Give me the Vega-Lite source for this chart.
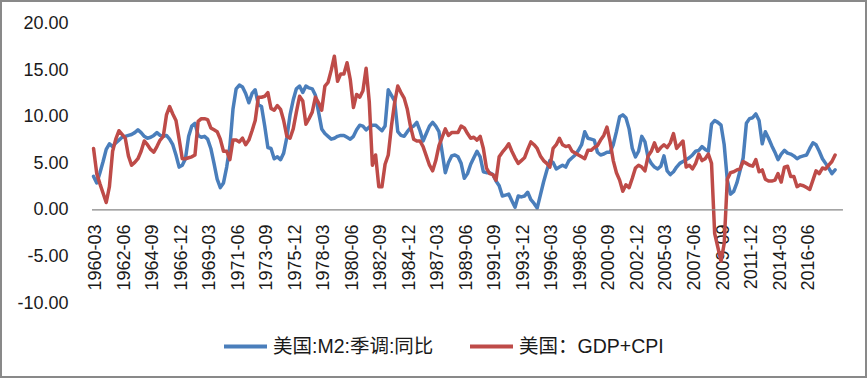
{
  "$schema": "https://vega.github.io/schema/vega-lite/v6.json",
  "width": 867,
  "height": 378,
  "autosize": {"type": "none"},
  "padding": 0,
  "background": "white",
  "config": {
    "font": "Liberation Sans, Noto Sans CJK SC",
    "view": {"stroke": "#898989", "strokeWidth": 4}
  },
  "data": {"values": [
    {"q":"1960-03","m2":3.6,"gdp":6.6},{"q":"1960-06","m2":2.9,"gdp":3.9},{"q":"1960-09","m2":4.0,"gdp":2.8},{"q":"1960-12","m2":5.2,"gdp":1.8},
    {"q":"1961-03","m2":6.5,"gdp":0.8},{"q":"1961-06","m2":7.1,"gdp":2.5},{"q":"1961-09","m2":6.8,"gdp":6.3},{"q":"1961-12","m2":7.2,"gdp":7.6},
    {"q":"1962-03","m2":7.5,"gdp":8.5},{"q":"1962-06","m2":7.8,"gdp":8.1},{"q":"1962-09","m2":7.9,"gdp":7.7},{"q":"1962-12","m2":8.0,"gdp":5.8},
    {"q":"1963-03","m2":8.1,"gdp":4.8},{"q":"1963-06","m2":8.3,"gdp":5.1},{"q":"1963-09","m2":8.6,"gdp":5.5},{"q":"1963-12","m2":8.3,"gdp":6.3},
    {"q":"1964-03","m2":7.9,"gdp":7.4},{"q":"1964-06","m2":7.7,"gdp":7.0},{"q":"1964-09","m2":7.8,"gdp":6.5},{"q":"1964-12","m2":8.0,"gdp":6.2},
    {"q":"1965-03","m2":8.3,"gdp":6.8},{"q":"1965-06","m2":8.0,"gdp":7.5},{"q":"1965-09","m2":7.9,"gdp":7.9},{"q":"1965-12","m2":8.0,"gdp":10.2},
    {"q":"1966-03","m2":7.6,"gdp":11.1},{"q":"1966-06","m2":7.0,"gdp":10.3},{"q":"1966-09","m2":5.9,"gdp":9.6},{"q":"1966-12","m2":4.6,"gdp":7.6},
    {"q":"1967-03","m2":4.8,"gdp":5.5},{"q":"1967-06","m2":5.5,"gdp":5.5},{"q":"1967-09","m2":7.9,"gdp":5.6},{"q":"1967-12","m2":9.0,"gdp":5.7},
    {"q":"1968-03","m2":9.3,"gdp":5.9},{"q":"1968-06","m2":8.0,"gdp":9.5},{"q":"1968-09","m2":7.8,"gdp":9.8},{"q":"1968-12","m2":7.9,"gdp":9.8},
    {"q":"1969-03","m2":7.6,"gdp":9.7},{"q":"1969-06","m2":6.6,"gdp":8.8},{"q":"1969-09","m2":5.0,"gdp":8.6},{"q":"1969-12","m2":3.3,"gdp":8.4},
    {"q":"1970-03","m2":2.4,"gdp":7.6},{"q":"1970-06","m2":2.9,"gdp":6.3},{"q":"1970-09","m2":4.6,"gdp":6.3},{"q":"1970-12","m2":6.8,"gdp":5.4},
    {"q":"1971-03","m2":10.8,"gdp":7.5},{"q":"1971-06","m2":13.0,"gdp":7.5},{"q":"1971-09","m2":13.4,"gdp":7.3},{"q":"1971-12","m2":13.2,"gdp":7.7},
    {"q":"1972-03","m2":12.5,"gdp":7.0},{"q":"1972-06","m2":11.5,"gdp":7.5},{"q":"1972-09","m2":12.5,"gdp":8.5},{"q":"1972-12","m2":12.9,"gdp":9.6},
    {"q":"1973-03","m2":11.3,"gdp":12.1},{"q":"1973-06","m2":11.1,"gdp":12.1},{"q":"1973-09","m2":9.0,"gdp":12.2},{"q":"1973-12","m2":6.7,"gdp":12.6},
    {"q":"1974-03","m2":6.6,"gdp":10.9},{"q":"1974-06","m2":5.5,"gdp":10.7},{"q":"1974-09","m2":5.7,"gdp":11.2},{"q":"1974-12","m2":5.4,"gdp":10.8},
    {"q":"1975-03","m2":6.1,"gdp":9.6},{"q":"1975-06","m2":7.8,"gdp":7.9},{"q":"1975-09","m2":10.2,"gdp":7.7},{"q":"1975-12","m2":11.8,"gdp":8.7},
    {"q":"1976-03","m2":13.0,"gdp":10.5},{"q":"1976-06","m2":13.3,"gdp":12.2},{"q":"1976-09","m2":12.6,"gdp":11.7},{"q":"1976-12","m2":13.3,"gdp":9.2},
    {"q":"1977-03","m2":13.1,"gdp":9.8},{"q":"1977-06","m2":13.0,"gdp":10.5},{"q":"1977-09","m2":12.3,"gdp":12.1},{"q":"1977-12","m2":10.5,"gdp":11.5},
    {"q":"1978-03","m2":8.7,"gdp":10.7},{"q":"1978-06","m2":8.2,"gdp":13.3},{"q":"1978-09","m2":7.9,"gdp":13.7},{"q":"1978-12","m2":7.6,"gdp":15.0},
    {"q":"1979-03","m2":7.7,"gdp":16.5},{"q":"1979-06","m2":7.9,"gdp":13.8},{"q":"1979-09","m2":8.0,"gdp":14.6},{"q":"1979-12","m2":8.0,"gdp":14.6},
    {"q":"1980-03","m2":7.8,"gdp":15.8},{"q":"1980-06","m2":7.6,"gdp":14.0},{"q":"1980-09","m2":7.9,"gdp":11.0},{"q":"1980-12","m2":8.6,"gdp":12.4},
    {"q":"1981-03","m2":9.1,"gdp":12.1},{"q":"1981-06","m2":9.0,"gdp":12.8},{"q":"1981-09","m2":8.6,"gdp":15.2},{"q":"1981-12","m2":8.9,"gdp":11.6},
    {"q":"1982-03","m2":9.1,"gdp":4.8},{"q":"1982-06","m2":9.1,"gdp":5.9},{"q":"1982-09","m2":8.8,"gdp":2.5},{"q":"1982-12","m2":8.5,"gdp":2.5},
    {"q":"1983-03","m2":9.0,"gdp":4.9},{"q":"1983-06","m2":12.9,"gdp":5.9},{"q":"1983-09","m2":12.3,"gdp":9.0},{"q":"1983-12","m2":11.7,"gdp":11.5},
    {"q":"1984-03","m2":8.4,"gdp":13.3},{"q":"1984-06","m2":8.0,"gdp":12.6},{"q":"1984-09","m2":7.9,"gdp":12.0},{"q":"1984-12","m2":8.4,"gdp":10.8},
    {"q":"1985-03","m2":8.8,"gdp":9.0},{"q":"1985-06","m2":9.0,"gdp":7.6},{"q":"1985-09","m2":9.4,"gdp":7.4},{"q":"1985-12","m2":8.5,"gdp":7.4},
    {"q":"1986-03","m2":7.4,"gdp":6.8},{"q":"1986-06","m2":8.2,"gdp":5.8},{"q":"1986-09","m2":9.0,"gdp":4.8},{"q":"1986-12","m2":9.4,"gdp":4.2},
    {"q":"1987-03","m2":9.0,"gdp":5.3},{"q":"1987-06","m2":8.4,"gdp":6.9},{"q":"1987-09","m2":6.2,"gdp":7.8},{"q":"1987-12","m2":4.0,"gdp":8.7},
    {"q":"1988-03","m2":5.1,"gdp":8.0},{"q":"1988-06","m2":5.8,"gdp":8.3},{"q":"1988-09","m2":5.9,"gdp":8.3},{"q":"1988-12","m2":5.7,"gdp":8.3},
    {"q":"1989-03","m2":5.0,"gdp":9.0},{"q":"1989-06","m2":3.4,"gdp":8.8},{"q":"1989-09","m2":3.9,"gdp":8.2},{"q":"1989-12","m2":4.9,"gdp":7.7},
    {"q":"1990-03","m2":5.6,"gdp":7.8},{"q":"1990-06","m2":6.3,"gdp":7.5},{"q":"1990-09","m2":5.7,"gdp":7.9},{"q":"1990-12","m2":4.1,"gdp":6.6},
    {"q":"1991-03","m2":4.0,"gdp":4.5},{"q":"1991-06","m2":4.0,"gdp":3.9},{"q":"1991-09","m2":3.8,"gdp":3.8},{"q":"1991-12","m2":3.1,"gdp":3.2},
    {"q":"1992-03","m2":2.6,"gdp":5.7},{"q":"1992-06","m2":1.5,"gdp":6.2},{"q":"1992-09","m2":1.6,"gdp":6.6},{"q":"1992-12","m2":1.7,"gdp":7.1},
    {"q":"1993-03","m2":1.0,"gdp":6.3},{"q":"1993-06","m2":0.3,"gdp":5.6},{"q":"1993-09","m2":1.5,"gdp":5.0},{"q":"1993-12","m2":1.4,"gdp":5.3},
    {"q":"1994-03","m2":1.5,"gdp":5.6},{"q":"1994-06","m2":1.9,"gdp":6.5},{"q":"1994-09","m2":1.1,"gdp":7.3},{"q":"1994-12","m2":0.7,"gdp":7.0},
    {"q":"1995-03","m2":0.2,"gdp":6.6},{"q":"1995-06","m2":1.6,"gdp":5.8},{"q":"1995-09","m2":3.0,"gdp":5.3},{"q":"1995-12","m2":4.2,"gdp":5.0},
    {"q":"1996-03","m2":5.3,"gdp":4.6},{"q":"1996-06","m2":5.1,"gdp":6.6},{"q":"1996-09","m2":4.4,"gdp":7.0},{"q":"1996-12","m2":4.6,"gdp":7.7},
    {"q":"1997-03","m2":4.8,"gdp":7.0},{"q":"1997-06","m2":4.6,"gdp":6.8},{"q":"1997-09","m2":5.3,"gdp":6.9},{"q":"1997-12","m2":5.6,"gdp":6.3},
    {"q":"1998-03","m2":5.9,"gdp":6.1},{"q":"1998-06","m2":6.4,"gdp":5.9},{"q":"1998-09","m2":7.0,"gdp":5.7},{"q":"1998-12","m2":8.4,"gdp":5.5},
    {"q":"1999-03","m2":7.7,"gdp":6.4},{"q":"1999-06","m2":7.6,"gdp":6.4},{"q":"1999-09","m2":7.5,"gdp":6.7},{"q":"1999-12","m2":6.2,"gdp":6.9},
    {"q":"2000-03","m2":5.9,"gdp":7.5},{"q":"2000-06","m2":6.0,"gdp":8.0},{"q":"2000-09","m2":6.2,"gdp":8.9},{"q":"2000-12","m2":6.2,"gdp":7.3},
    {"q":"2001-03","m2":7.0,"gdp":5.3},{"q":"2001-06","m2":8.4,"gdp":4.0},{"q":"2001-09","m2":10.0,"gdp":3.2},{"q":"2001-12","m2":10.2,"gdp":2.0},
    {"q":"2002-03","m2":9.9,"gdp":2.7},{"q":"2002-06","m2":8.7,"gdp":2.4},{"q":"2002-09","m2":6.6,"gdp":3.4},{"q":"2002-12","m2":5.7,"gdp":4.5},
    {"q":"2003-03","m2":6.3,"gdp":4.8},{"q":"2003-06","m2":7.9,"gdp":4.6},{"q":"2003-09","m2":7.3,"gdp":4.2},{"q":"2003-12","m2":5.6,"gdp":5.8},
    {"q":"2004-03","m2":5.0,"gdp":6.3},{"q":"2004-06","m2":4.6,"gdp":7.2},{"q":"2004-09","m2":4.4,"gdp":6.3},{"q":"2004-12","m2":4.7,"gdp":6.7},
    {"q":"2005-03","m2":5.8,"gdp":7.0},{"q":"2005-06","m2":4.2,"gdp":6.7},{"q":"2005-09","m2":3.8,"gdp":7.2},{"q":"2005-12","m2":4.1,"gdp":8.2},
    {"q":"2006-03","m2":4.6,"gdp":6.6},{"q":"2006-06","m2":5.0,"gdp":7.0},{"q":"2006-09","m2":5.2,"gdp":7.4},{"q":"2006-12","m2":5.4,"gdp":4.6},
    {"q":"2007-03","m2":5.6,"gdp":4.8},{"q":"2007-06","m2":5.9,"gdp":4.4},{"q":"2007-09","m2":6.3,"gdp":5.0},{"q":"2007-12","m2":6.4,"gdp":6.0},
    {"q":"2008-03","m2":6.8,"gdp":5.3},{"q":"2008-06","m2":6.5,"gdp":5.5},{"q":"2008-09","m2":6.3,"gdp":6.0},{"q":"2008-12","m2":9.2,"gdp":5.0},
    {"q":"2009-03","m2":9.6,"gdp":-2.5},{"q":"2009-06","m2":9.4,"gdp":-4.0},{"q":"2009-09","m2":9.1,"gdp":-5.5},{"q":"2009-12","m2":7.0,"gdp":-3.6},
    {"q":"2010-03","m2":3.2,"gdp":3.3},{"q":"2010-06","m2":1.7,"gdp":4.0},{"q":"2010-09","m2":2.0,"gdp":4.1},{"q":"2010-12","m2":2.9,"gdp":4.3},
    {"q":"2011-03","m2":4.2,"gdp":4.4},{"q":"2011-06","m2":5.6,"gdp":5.2},{"q":"2011-09","m2":9.3,"gdp":5.0},{"q":"2011-12","m2":9.8,"gdp":4.8},
    {"q":"2012-03","m2":9.9,"gdp":4.7},{"q":"2012-06","m2":10.3,"gdp":5.4},{"q":"2012-09","m2":9.6,"gdp":4.1},{"q":"2012-12","m2":7.1,"gdp":4.3},
    {"q":"2013-03","m2":8.4,"gdp":3.3},{"q":"2013-06","m2":7.7,"gdp":3.1},{"q":"2013-09","m2":6.9,"gdp":3.1},{"q":"2013-12","m2":6.2,"gdp":3.2},
    {"q":"2014-03","m2":5.4,"gdp":3.9},{"q":"2014-06","m2":6.0,"gdp":3.0},{"q":"2014-09","m2":6.4,"gdp":4.6},{"q":"2014-12","m2":6.1,"gdp":4.7},
    {"q":"2015-03","m2":6.0,"gdp":3.6},{"q":"2015-06","m2":5.8,"gdp":3.6},{"q":"2015-09","m2":5.5,"gdp":2.5},{"q":"2015-12","m2":5.7,"gdp":2.7},
    {"q":"2016-03","m2":5.8,"gdp":2.6},{"q":"2016-06","m2":5.9,"gdp":2.4},{"q":"2016-09","m2":6.6,"gdp":2.2},{"q":"2016-12","m2":7.2,"gdp":3.2},
    {"q":"2017-03","m2":7.0,"gdp":4.2},{"q":"2017-06","m2":6.3,"gdp":3.9},{"q":"2017-09","m2":5.5,"gdp":4.5},{"q":"2017-12","m2":5.0,"gdp":4.4},
    {"q":"2018-03","m2":4.5,"gdp":4.8},{"q":"2018-06","m2":3.9,"gdp":5.2},{"q":"2018-09","m2":4.3,"gdp":5.9}
  ]},
  "layer": [
    {
      "mark": {"type": "line", "color": "#4A7EBB", "strokeWidth": 3.5, "strokeJoin": "round", "strokeCap": "round"},
      "encoding": {
        "x": {
          "field": "q", "type": "temporal",
          "scale": {"type": "utc", "domain": [{"year": 1952, "month": 10, "date": 13, "utc": true}, {"year": 2021, "month": 3, "date": 8, "utc": true}]},
          "axis": {
            "orient": "bottom", "offset": -168, "title": null, "tickCount": 60,
            "values": [
              {"year":1960,"month":3,"date":1,"utc":true},{"year":1962,"month":6,"date":1,"utc":true},{"year":1964,"month":9,"date":1,"utc":true},
              {"year":1966,"month":12,"date":1,"utc":true},{"year":1969,"month":3,"date":1,"utc":true},{"year":1971,"month":6,"date":1,"utc":true},
              {"year":1973,"month":9,"date":1,"utc":true},{"year":1975,"month":12,"date":1,"utc":true},{"year":1978,"month":3,"date":1,"utc":true},
              {"year":1980,"month":6,"date":1,"utc":true},{"year":1982,"month":9,"date":1,"utc":true},{"year":1984,"month":12,"date":1,"utc":true},
              {"year":1987,"month":3,"date":1,"utc":true},{"year":1989,"month":6,"date":1,"utc":true},{"year":1991,"month":9,"date":1,"utc":true},
              {"year":1993,"month":12,"date":1,"utc":true},{"year":1996,"month":3,"date":1,"utc":true},{"year":1998,"month":6,"date":1,"utc":true},
              {"year":2000,"month":9,"date":1,"utc":true},{"year":2002,"month":12,"date":1,"utc":true},{"year":2005,"month":3,"date":1,"utc":true},
              {"year":2007,"month":6,"date":1,"utc":true},{"year":2009,"month":9,"date":1,"utc":true},{"year":2011,"month":12,"date":1,"utc":true},
              {"year":2014,"month":3,"date":1,"utc":true},{"year":2016,"month":6,"date":1,"utc":true}
            ],
            "format": "%Y-%m",
            "labelAngle": 270, "labelAlign": "right", "labelBaseline": "middle",
            "labelPadding": 14, "labelOffset": 2, "labelFontSize": 18, "labelColor": "#1a1a1a",
            "domain": false, "ticks": false, "tickSize": 0, "grid": false,
            "labelOverlap": false, "labelFlush": false, "labelBound": false
          }
        },
        "y": {
          "field": "m2", "type": "quantitative",
          "scale": {"domain": [-18.03, 22.53], "nice": false, "zero": false},
          "axis": {
            "orient": "left", "offset": -92, "title": null,
            "values": [-10, -5, 0, 5, 10, 15, 20],
            "labelExpr": "replace(format(datum.value, '.2f'), '−', '-')",
            "labelPadding": 24, "labelFontSize": 18, "labelColor": "#1a1a1a",
            "domain": false, "ticks": false, "tickSize": 0, "grid": false
          }
        },
        "color": {
          "datum": "美国:M2:季调:同比", "type": "nominal",
          "scale": {"domain": ["美国:M2:季调:同比", "美国：GDP+CPI"], "range": ["#4A7EBB", "#BE4B48"]},
          "legend": {
            "orient": "none", "legendX": 222, "legendY": 323, "direction": "horizontal",
            "title": null, "padding": 0, "symbolType": "stroke", "symbolSize": 1849,
            "symbolStrokeWidth": 4, "labelFontSize": 19.5, "labelOffset": 4,
            "columnPadding": 28, "labelLimit": 400, "labelColor": "#1a1a1a"
          }
        }
      }
    },
    {
      "mark": {"type": "line", "color": "#BE4B48", "strokeWidth": 3.5, "strokeJoin": "round", "strokeCap": "round"},
      "encoding": {
        "x": {"field": "q", "type": "temporal", "title": null},
        "y": {"field": "gdp", "type": "quantitative", "title": null},
        "color": {"datum": "美国：GDP+CPI", "type": "nominal"}
      }
    },
    {
      "data": {"values": [{"start": "1960-01-15", "end": "2019-04-15", "zero": 0}]},
      "mark": {"type": "rule", "color": "#868686", "strokeWidth": 1.3},
      "encoding": {
        "x": {"field": "start", "type": "temporal", "title": null},
        "x2": {"field": "end"},
        "y": {"field": "zero", "type": "quantitative", "title": null}
      }
    }
  ]
}
